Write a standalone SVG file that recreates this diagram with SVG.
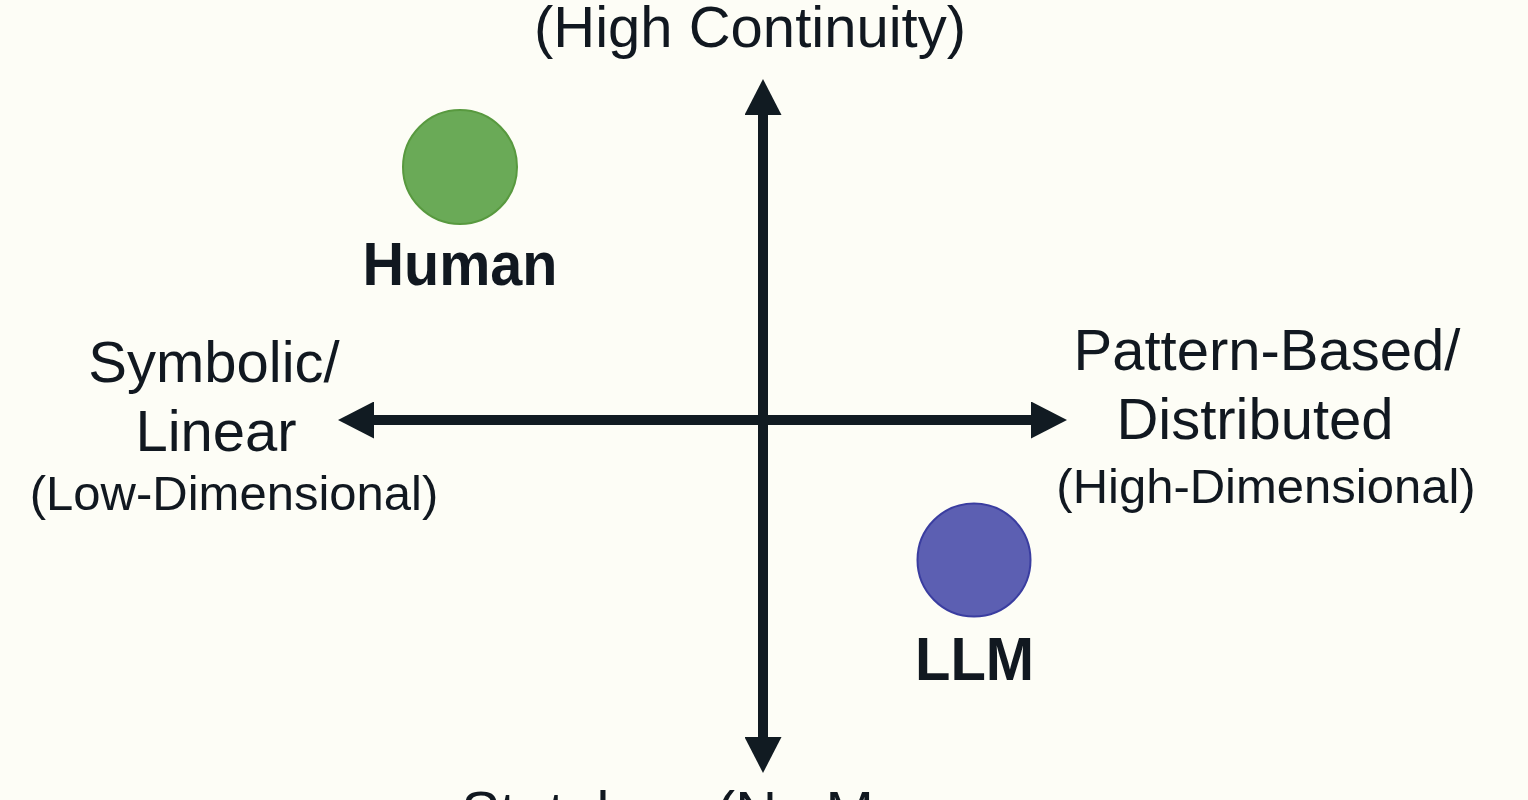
<svg xmlns="http://www.w3.org/2000/svg" width="1528" height="800" viewBox="0 0 1528 800">
  <style>
    .lbl { font-family: "Liberation Sans", Arial, sans-serif; fill: #111820; text-anchor: middle; }
    .big { font-size: 58px; }
    .sub { font-size: 49px; }
    .node-lbl { font-family: "Liberation Sans", Arial, sans-serif; font-weight: bold; font-size: 62px; fill: #111820; text-anchor: middle; }
    .axis { stroke: #111b22; stroke-width: 10; fill: none; marker-start: url(#head); marker-end: url(#head); }
  </style>
  <defs>
    <marker id="head" viewBox="0 0 36 37" refX="1" refY="18.5" markerWidth="36" markerHeight="37" markerUnits="userSpaceOnUse" orient="auto-start-reverse">
      <path d="M0,0 L36,18.5 L0,37 Z" fill="#111b22"/>
    </marker>
  </defs>
  <rect x="0" y="0" width="1528" height="800" fill="#fdfdf6"/>

  <g id="connectors">
    <line class="axis" x1="763" y1="738" x2="763" y2="114"/>
    <line class="axis" x1="373" y1="420" x2="1032" y2="420"/>
  </g>

  <g id="axis-labels">
    <text class="lbl big" x="750" y="47">(High Continuity)</text>
    <text class="lbl big" x="748" y="832">Stateless (No Memory</text>
    <text class="lbl big" x="214" y="382">Symbolic/</text>
    <text class="lbl big" x="216" y="451">Linear</text>
    <text class="lbl sub" x="234" y="510">(Low-Dimensional)</text>
    <text class="lbl big" x="1267" y="370">Pattern-Based/</text>
    <text class="lbl big" x="1255" y="439">Distributed</text>
    <text class="lbl sub" x="1266" y="503">(High-Dimensional)</text>
  </g>

  <g id="human">
    <circle cx="460" cy="167" r="57" fill="#6aaa57" stroke="#58993f" stroke-width="2"/>
    <text class="node-lbl" x="460" y="285" textLength="195" lengthAdjust="spacingAndGlyphs">Human</text>
  </g>

  <g id="llm">
    <circle cx="974" cy="560" r="56.5" fill="#5c5fb2" stroke="#3a3da0" stroke-width="2"/>
    <text class="node-lbl" x="974.5" y="680" textLength="119" lengthAdjust="spacingAndGlyphs">LLM</text>
  </g>
</svg>
